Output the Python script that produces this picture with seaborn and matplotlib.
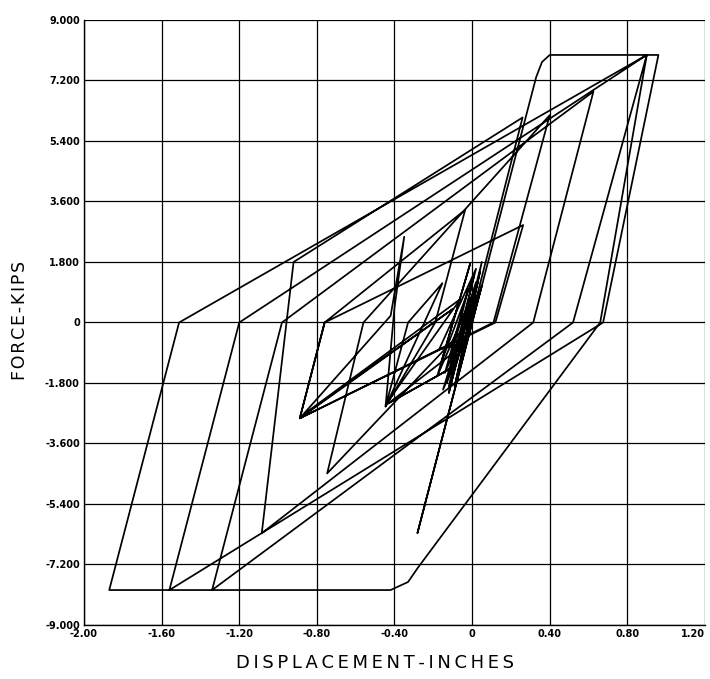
import numpy as np
import pandas as pd
import matplotlib
matplotlib.use("Agg")
import matplotlib.pyplot as plt
import seaborn as sns

# Displacement (in) / force (kips) path
disp = [0.00, 0.03, -0.03, 0.05, -0.06, 0.04, -0.09, 0.05, -0.12, 0.02, -0.15, 0.00,
        -0.282, 0.33, 0.36, 0.40, 0.90, 0.66, -0.28, -0.33, -0.42, -1.87,
        -1.51, 0.90, 0.96, 0.675, -1.56, -1.20, 0.90, 0.52, -1.34, -0.98,
        0.625, 0.315, -1.084, -0.92, 0.26, -0.01, -0.747, -0.56, 0.40, 0.11,
        -0.888, -0.76, 0.263, 0.12,
        -0.888, -0.76, -0.036, -0.19, -0.446, -0.33, -0.153, -0.446, -0.40,
        -0.35, -0.42, -0.888, -0.10, -0.86, -0.06, -0.446, -0.09, -0.43, -0.03,
        -0.17, 0.02, -0.13, 0.03, -0.18, -0.01, -0.16, 0.01, -0.12, 0.04, -0.14,
        -0.02, -0.11, 0.02, -0.10, 0.01, -0.08, 0.00, -0.06, -0.01]
force = [0.00, 0.70, -0.60, 1.10, -1.20, 1.50, -1.90, 1.80, -2.10, 1.20, -2.00, 0.00,
         -6.27, 7.30, 7.75, 7.96, 7.96, 0.00, -7.30, -7.72, -7.96, -7.96,
         0.00, 7.96, 7.96, 0.00, -7.96, 0.00, 7.96, 0.00, -7.96, 0.00,
         6.87, 0.00, -6.27, 1.80, 6.10, 0.00, -4.49, 0.00, 6.17, 0.00,
         -2.85, 0.00, 2.90, 0.00,
         -2.85, 0.00, 3.35, 0.00, -2.50, 0.00, 1.17, -2.50, 0.45,
         2.55, 0.20, -2.85, 0.40, -2.70, 0.70, -2.45, -1.30, -2.40, -0.60,
         -0.80, 1.60, -1.80, 1.20, -1.60, 1.75, -1.20, 1.40, -1.90, 0.90, -1.50,
         1.00, -1.10, 0.80, -1.00, 0.60, -0.70, 0.50, -0.40, 0.20]

xticks = [-2.0, -1.6, -1.2, -0.8, -0.4, 0.0, 0.4, 0.8, 1.2]
xticklabels = ["-2.00", "-1.60", "-1.20", "-0.80", "-0.40", "0", "0.40", "0.80", "1.20"]
yticks = [-9.0, -7.2, -5.4, -3.6, -1.8, 0.0, 1.8, 3.6, 5.4, 7.2, 9.0]
yticklabels = ["-9.000", "-7.200", "-5.400", "-3.600", "-1.800", "0",
               "1.800", "3.600", "5.400", "7.200", "9.000"]
xlabel = "DISPLACEMENT-INCHES"
ylabel = "FORCE-KIPS"

df = pd.DataFrame({"disp": disp, "force": force, "step": np.arange(len(disp))})

sns.set_theme(style="white")
plt.rcParams['font.family'] = ['DejaVu Sans']

fig = plt.figure(figsize=(7.10, 6.79), dpi=100)
ax = fig.add_axes([84/710, 1 - 625/679, (705-84)/710, (625-20)/679])

ax.set_xlim(-2.0, 1.2)
ax.set_ylim(-9.0, 9.0)
ax.set_xticks(xticks)
ax.set_yticks(yticks)
ax.grid(True, color="black", linewidth=0.9)
ax.set_axisbelow(True)

sns.lineplot(data=df, x="disp", y="force", sort=False, estimator=None,
             color="black", linewidth=1.25, ax=ax)

ax.set_xticklabels(xticklabels, fontsize=7, fontweight="bold", color="black")
ax.set_yticklabels(yticklabels, fontsize=7, fontweight="bold", color="black")
ax.get_xticklabels()[-1].set_horizontalalignment("right")
ax.tick_params(axis="both", length=0, pad=3)
for s in ["top", "right"]:
    ax.spines[s].set_visible(False)
for s in ["left", "bottom"]:
    ax.spines[s].set_color("black")
    ax.spines[s].set_linewidth(1.0)
ax.set_xlabel("")
ax.set_ylabel("")

thin = "\u2009"
hair = "\u200a"
fig.text(375/710, 1 - 663/679, thin.join(xlabel), fontsize=13, color="black",
         ha="center", va="center")
fig.text(20/710, 1 - 320/679, hair.join(ylabel), fontsize=12.5, color="black",
         ha="center", va="center", rotation=90)

fig.savefig("out.png", dpi=100, facecolor="white")
